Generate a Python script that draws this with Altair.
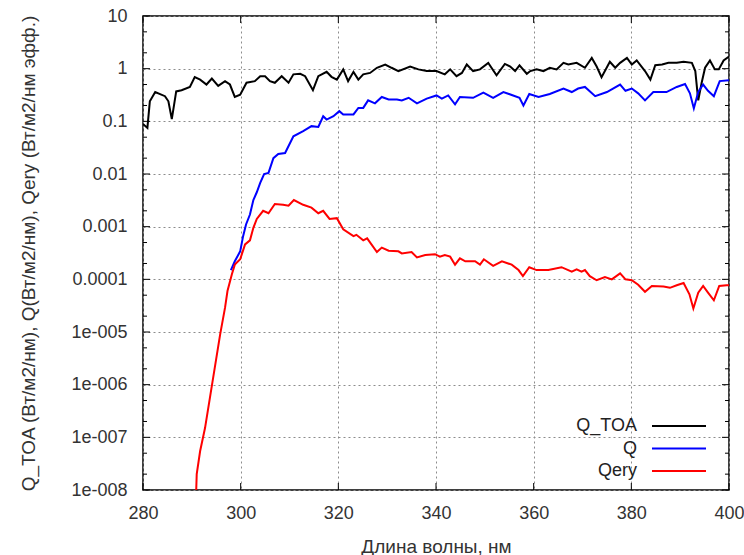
import altair as alt
import pandas as pd

# ---------------- data ----------------
series_names = ["Q_TOA", "Q", "Qery"]
series_colors = ["#000000", "#0000ff", "#ff0000"]

toa_wl = [280.0, 280.9, 281.4, 282.5, 284.5, 285.2, 285.9, 286.8, 287.9, 289.6,
          290.6, 291.7, 293.0, 294.1, 295.4, 296.8, 297.8, 298.8, 299.9, 301.2,
          302.9, 304.0, 305.0, 306.0, 307.0, 308.4, 309.8, 310.8, 312.2, 313.2,
          314.8, 315.9, 317.6, 318.6, 319.7, 321.0, 322.0, 323.1, 324.1, 325.1,
          326.5, 327.9, 329.6, 330.9, 332.3, 334.7, 336.4, 338.1, 340.1, 341.8,
          342.9, 344.2, 345.3, 346.3, 347.6, 349.0, 350.7, 352.4, 354.1, 355.2,
          356.2, 357.1, 358.6, 359.3, 360.6, 362.0, 363.3, 364.7, 366.1, 367.1,
          368.8, 370.5, 371.9, 372.9, 373.9, 375.6, 376.7, 377.7, 379.1, 380.1,
          381.1, 382.8, 383.9, 384.9, 386.3, 387.6, 389.3, 390.7, 392.4, 393.1,
          393.7, 394.4, 395.1, 396.1, 397.1, 397.9, 398.9, 400.0]
toa_val = [0.089, 0.075, 0.24, 0.36, 0.30, 0.24, 0.11, 0.37, 0.39, 0.45,
           0.69, 0.62, 0.50, 0.65, 0.47, 0.58, 0.50, 0.29, 0.32, 0.54,
           0.58, 0.72, 0.72, 0.58, 0.54, 0.72, 0.54, 0.78, 0.80, 0.72,
           0.39, 0.72, 0.87, 0.70, 0.62, 0.97, 0.58, 0.87, 0.62, 0.78,
           0.83, 1.04, 1.2, 1.04, 0.9, 1.1, 0.97, 0.9, 0.9, 0.78,
           0.97, 0.72, 0.83, 1.2, 0.9, 0.97, 1.29, 0.75, 1.23, 1.1,
           0.9, 1.16, 0.80, 0.9, 0.97, 0.9, 1.04, 0.97, 1.29, 1.2,
           1.29, 1.04, 1.6, 1.1, 0.69, 1.35, 1.04, 1.29, 1.6, 1.2,
           1.43, 0.9, 0.62, 1.16, 1.2, 1.29, 1.29, 1.35, 1.29, 0.9,
           0.25, 0.54, 1.04, 1.43, 0.97, 0.97, 1.43, 1.7]

q_wl = [298.0, 298.8, 299.9, 300.5, 301.1, 301.9, 302.6, 303.3, 304.0, 304.8,
        305.7, 306.7, 307.7, 309.1, 310.8, 312.8, 314.5, 315.9, 316.9, 317.6,
        319.0, 320.2, 321.0, 323.1, 324.1, 325.1, 326.1, 327.5, 328.9, 330.3,
        332.0, 333.0, 334.4, 336.1, 338.1, 340.1, 341.2, 342.5, 343.9, 344.9,
        347.6, 349.7, 351.7, 353.8, 355.8, 357.1, 357.9, 359.1, 361.0, 363.3,
        366.1, 367.8, 369.1, 370.5, 372.6, 375.0, 377.7, 378.8, 380.1, 381.4,
        382.8, 384.5, 387.2, 389.3, 391.0, 392.0, 392.8, 393.7, 394.7, 395.7,
        396.9, 398.1, 400.0]
q_val = [1.5e-4, 2.2e-4, 3.4e-4, 6.6e-4, 1.1e-3, 1.7e-3, 3.2e-3, 4.5e-3, 6.8e-3, 0.010,
         0.0105, 0.020, 0.024, 0.025, 0.052, 0.065, 0.081, 0.078, 0.125, 0.108,
         0.125, 0.156, 0.135, 0.135, 0.18, 0.18, 0.25, 0.22, 0.29, 0.26,
         0.26, 0.25, 0.28, 0.22, 0.27, 0.31, 0.27, 0.31, 0.21, 0.29,
         0.28, 0.35, 0.28, 0.36, 0.31, 0.28, 0.20, 0.33, 0.29, 0.33,
         0.42, 0.36, 0.42, 0.45, 0.30, 0.36, 0.50, 0.38, 0.42, 0.34,
         0.25, 0.36, 0.36, 0.45, 0.51, 0.34, 0.176, 0.36, 0.50, 0.38,
         0.30, 0.58, 0.60]

qery_wl = [290.8, 291.0, 291.7, 292.7, 293.7, 294.7, 295.8, 296.8, 297.3, 298.2,
           298.8, 299.9, 300.9, 301.9, 302.6, 303.3, 304.6, 305.7, 307.0, 308.7,
           309.8, 310.9, 312.8, 314.5, 315.9, 316.9, 318.2, 319.7, 321.0, 323.1,
           323.7, 325.1, 325.9, 327.9, 328.9, 330.3, 332.3, 333.0, 335.0, 336.1,
           337.8, 339.8, 340.8, 341.8, 342.9, 343.9, 344.9, 346.0, 348.0, 349.0,
           349.8, 351.7, 353.5, 355.5, 356.9, 357.8, 359.1, 360.6, 363.0, 365.7,
           367.8, 368.8, 369.8, 370.5, 371.5, 372.9, 374.6, 376.0, 377.7, 378.8,
           380.1, 381.4, 382.8, 384.2, 386.6, 387.9, 389.3, 390.7, 391.9, 392.7,
           393.7, 394.7, 395.7, 396.9, 398.0, 399.5, 400.0]
qery_val = [5e-9, 2e-8, 5.5e-8, 1.5e-7, 5.6e-7, 2.1e-6, 9e-6, 2.9e-5, 6e-5, 1.25e-4,
            1.9e-4, 2.4e-4, 4.6e-4, 5.5e-4, 9.5e-4, 1.4e-3, 2.0e-3, 1.8e-3, 2.7e-3, 2.6e-3,
            2.5e-3, 3.2e-3, 2.6e-3, 2.3e-3, 1.8e-3, 2.0e-3, 1.4e-3, 1.45e-3, 8.9e-4, 6.6e-4,
            7e-4, 5.5e-4, 6e-4, 3.3e-4, 4e-4, 3.5e-4, 3.4e-4, 3.1e-4, 3.3e-4, 2.6e-4,
            2.9e-4, 3.0e-4, 2.7e-4, 2.9e-4, 2.7e-4, 1.9e-4, 2.5e-4, 2.2e-4, 2.2e-4, 1.9e-4,
            2.4e-4, 1.8e-4, 2.2e-4, 1.9e-4, 1.5e-4, 1.15e-4, 1.7e-4, 1.5e-4, 1.5e-4, 1.7e-4,
            1.4e-4, 1.55e-4, 1.4e-4, 1.5e-4, 1.15e-4, 9.6e-5, 1.1e-4, 1.0e-4, 1.3e-4, 1.0e-4,
            9.6e-5, 7.9e-5, 5.8e-5, 7.5e-5, 7.3e-5, 6.9e-5, 7.7e-5, 8.5e-5, 5.2e-5, 2.8e-5,
            5.6e-5, 7.5e-5, 5.6e-5, 4.0e-5, 7.5e-5, 7.7e-5, 7.7e-5]

x_ticks = [280, 300, 320, 340, 360, 380, 400]
y_ticks = [1e-8, 1e-7, 1e-6, 1e-5, 1e-4, 1e-3, 1e-2, 1e-1, 1, 10]
y_tick_labels = ["1e-008", "1e-007", "1e-006", "1e-005", "0.0001",
                 "0.001", "0.01", "0.1", "1", "10"]
y_minor = [m * d for d in y_ticks[:-1] for m in (2, 5)]

x_title = "Длина волны, нм"
y_title = "Q_TOA (Вт/м2/нм), Q(Вт/м2/нм), Qery (Вт/м2/нм эфф.)"

# ---------------- build ----------------
W, H = 586, 474
FONT = "Liberation Sans"
TXT = "#333333"

df = pd.concat([
    pd.DataFrame({"series": series_names[0], "wl": toa_wl, "val": toa_val}),
    pd.DataFrame({"series": series_names[1], "wl": q_wl, "val": q_val}),
    pd.DataFrame({"series": series_names[2], "wl": qery_wl, "val": qery_val}),
], ignore_index=True)

xscale = alt.Scale(domain=[280, 400], nice=False, zero=False)
yscale = alt.Scale(type="log", domain=[1e-8, 10], nice=False)

label_arr = "[" + ",".join("'%s'" % s for s in y_tick_labels) + "]"

x_axis = alt.Axis(values=x_ticks, title=x_title, grid=True, ticks=False,
                  domain=False, labelPadding=14, titlePadding=15, labelFlush=False,
                  gridDash=[2, 3], gridColor="#8c8c8c", gridWidth=1)
y_axis = alt.Axis(values=y_ticks, title=y_title, grid=True, ticks=False,
                  domain=False, labelPadding=16, titlePadding=32, labelFlush=False,
                  labelExpr=label_arr + "[round(log(datum.value)/LN10)+8]",
                  gridDash=[2, 3], gridColor="#8c8c8c", gridWidth=1)

lines = alt.Chart(df).mark_line(strokeWidth=2, clip=True).encode(
    x=alt.X("wl:Q", scale=xscale, axis=x_axis),
    y=alt.Y("val:Q", scale=yscale, axis=y_axis),
    color=alt.Color("series:N", scale=alt.Scale(domain=series_names, range=series_colors),
                    legend=None),
    detail="series:N",
)

ymaj = pd.DataFrame({"v": y_ticks})
ymin = pd.DataFrame({"v": y_minor})
xmaj = pd.DataFrame({"v": x_ticks})

def yt(data, x0, x1):
    return alt.Chart(data).mark_rule(color="#000000", strokeWidth=1).encode(
        y=alt.Y("v:Q", scale=yscale, axis=y_axis),
        x=alt.value(x0), x2=alt.value(x1))

def xt(data, y0, y1):
    return alt.Chart(data).mark_rule(color="#000000", strokeWidth=1).encode(
        x=alt.X("v:Q", scale=xscale, axis=x_axis),
        y=alt.value(y0), y2=alt.value(y1))

ticks = [yt(ymaj, 0, 7), yt(ymaj, W, W - 7), yt(ymin, 0, 4), yt(ymin, W, W - 4),
         xt(xmaj, H, H - 7), xt(xmaj, 0, 7)]

legend_layers = []
for i, (name, col) in enumerate(zip(series_names, series_colors)):
    yy = 410 + i * 22.5
    legend_layers.append(
        alt.Chart(pd.DataFrame({"name": [name]})).mark_text(
            align="right", baseline="middle", font=FONT, fontSize=18, color="#222222"
        ).encode(text="name:N", x=alt.value(494), y=alt.value(yy)))
    legend_layers.append(
        alt.Chart(pd.DataFrame({"name": [name]})).mark_rule(strokeWidth=2, color=col).encode(
            x=alt.value(509), x2=alt.value(563), y=alt.value(yy)))

chart = alt.layer(lines, *ticks, *legend_layers).properties(
    width=W, height=H,
    autosize=alt.AutoSizeParams(type="none"),
    padding={"left": 143, "top": 16, "right": 15, "bottom": 65},
    background="white",
).configure_view(
    stroke="#000000", strokeWidth=1.5
).configure_axis(
    labelFont=FONT, titleFont=FONT, labelFontSize=18, titleFontSize=19,
    labelColor=TXT, titleColor=TXT, titleFontWeight="normal",
)

chart.save("out.html", embed_options={"renderer": "svg", "actions": False})
